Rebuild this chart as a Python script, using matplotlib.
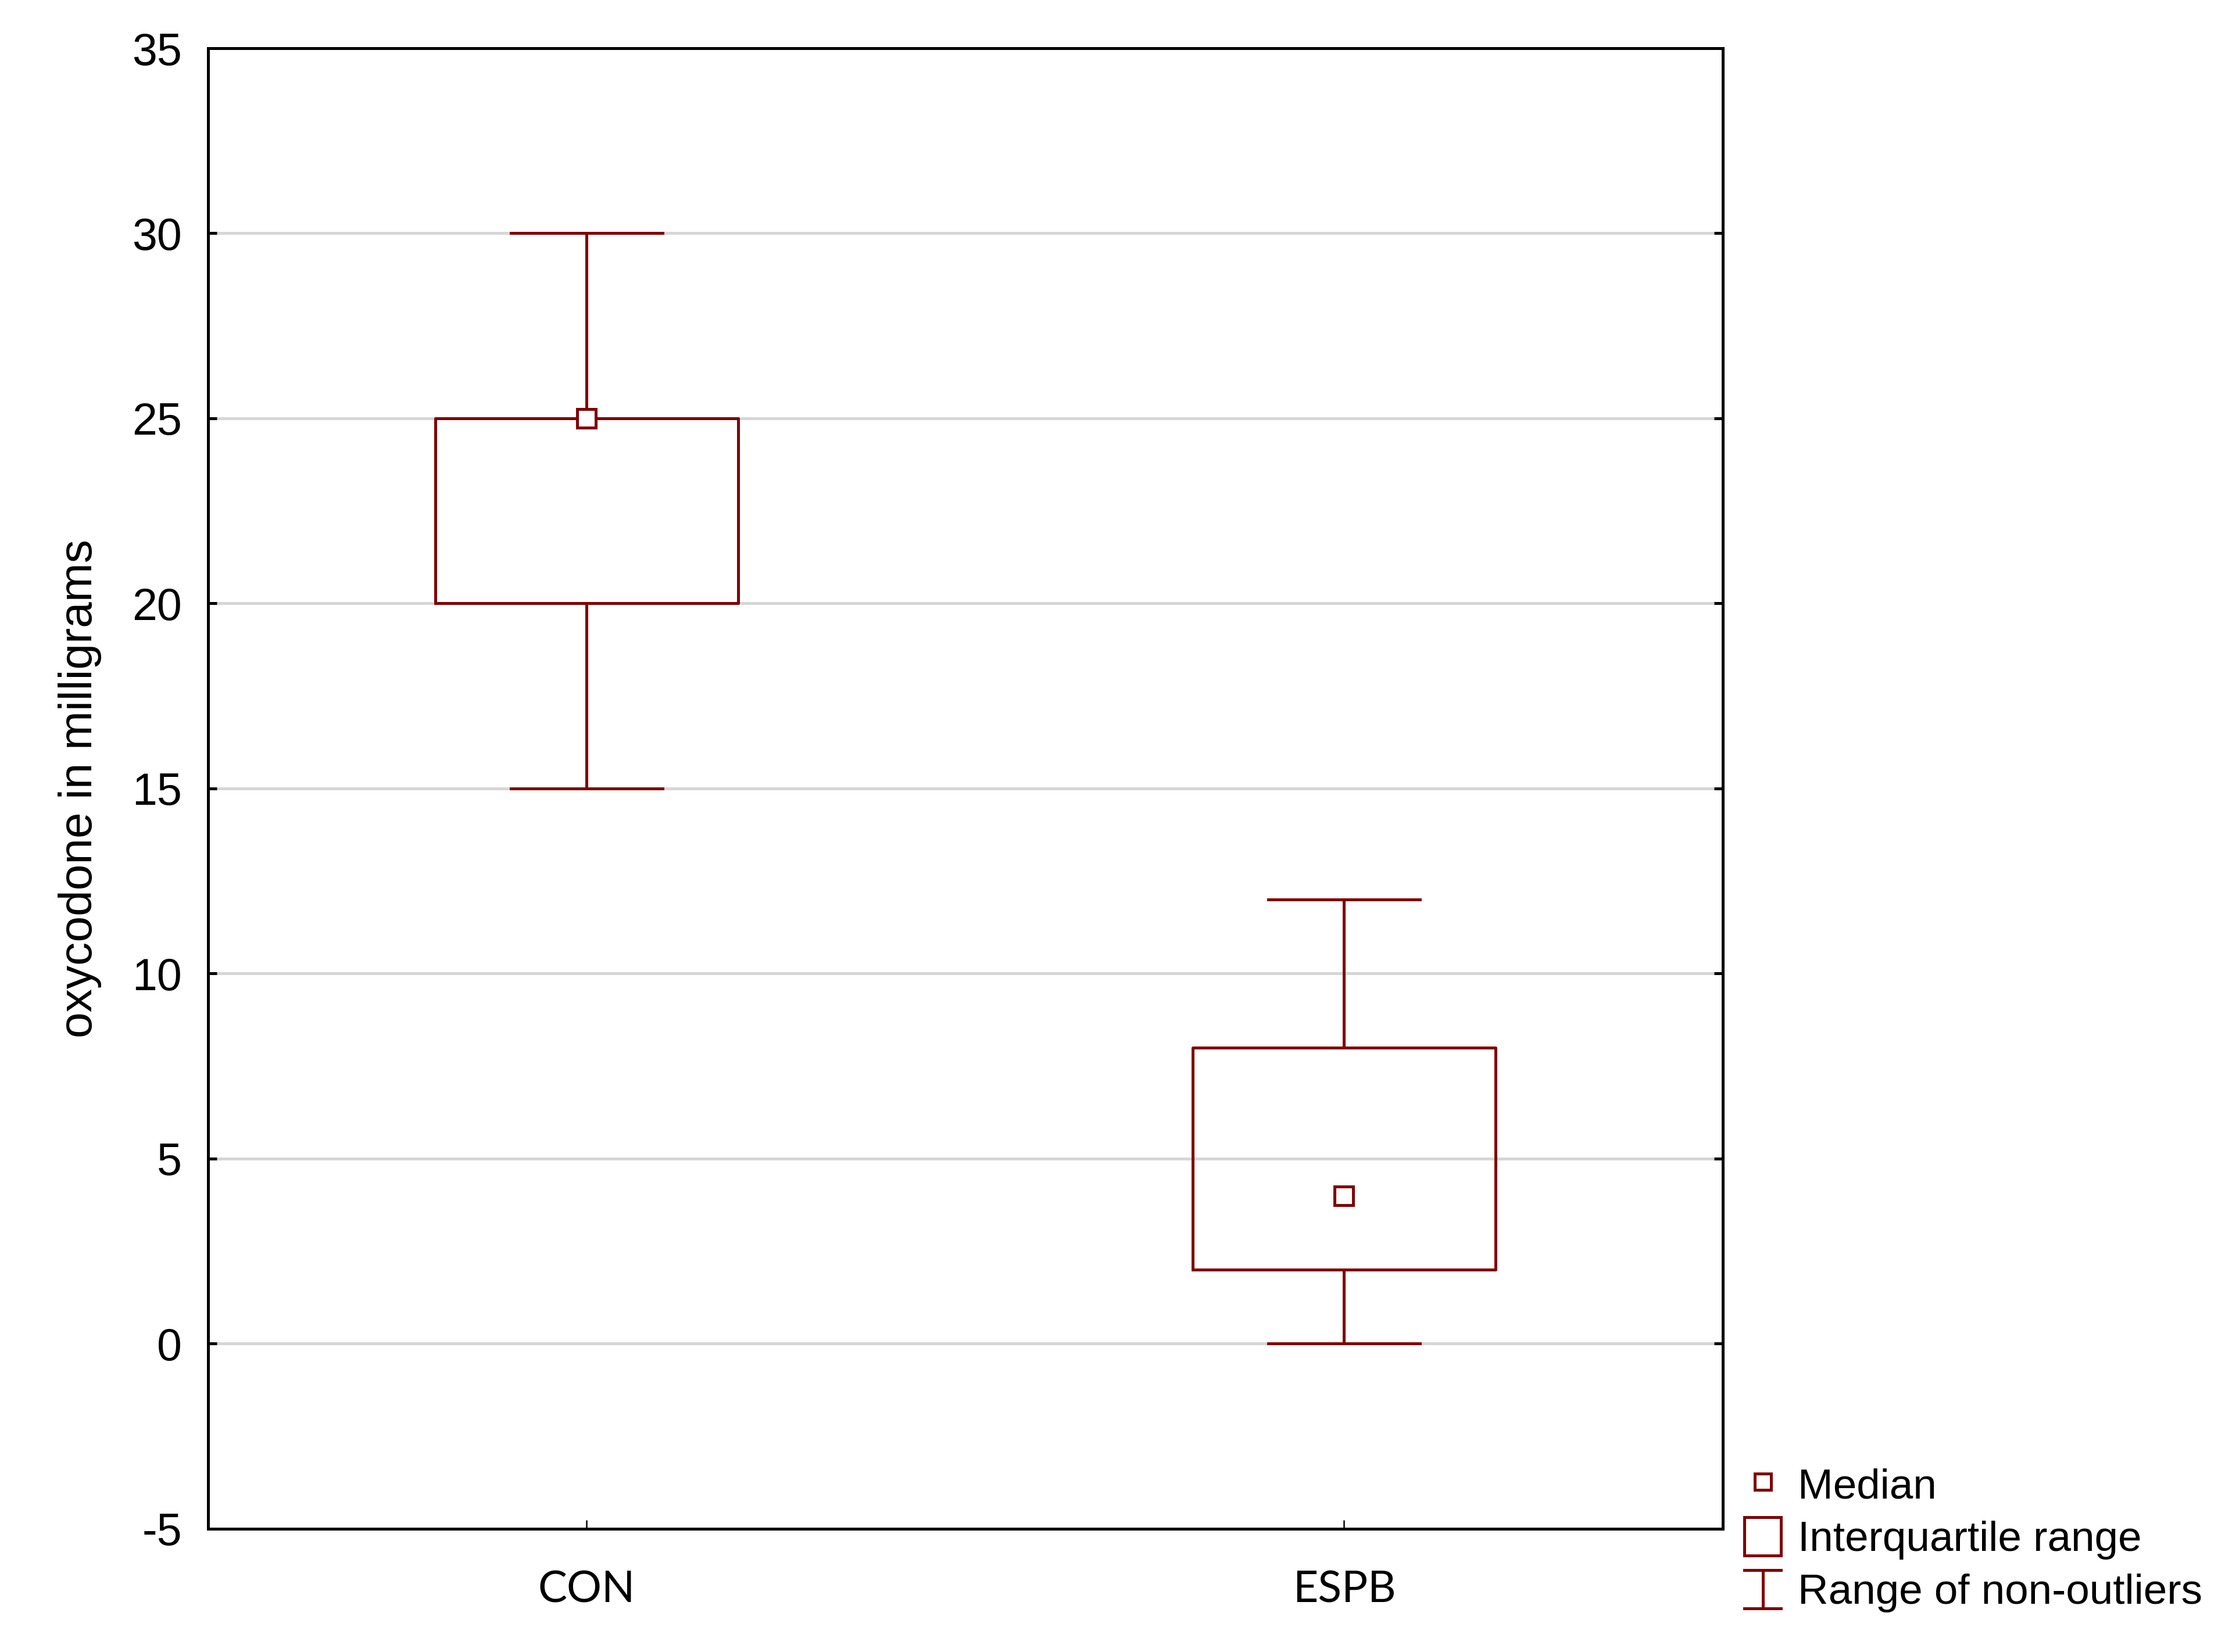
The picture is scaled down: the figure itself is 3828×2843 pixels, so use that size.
import numpy as np
import matplotlib
matplotlib.use("Agg")
import matplotlib.pyplot as plt
from matplotlib.lines import Line2D
from matplotlib.patches import Rectangle

# valores
groups = ["CON", "ESPB"]
whisker_low = [15, 0]
q1 = [20, 2]
medians = [25, 4]
q3 = [25, 8]
whisker_high = [30, 12]

legend_labels = ["Median", "Interquartile range", "Range of non-outliers"]
yticks = [-5, 0, 5, 10, 15, 20, 25, 30, 35]

red = "#800000"
lw = 1.2

plt.rcParams['font.family'] = ['Liberation Sans', 'DejaVu Sans']

fig = plt.figure(figsize=(12.76, 9.4767), dpi=300)
ax = fig.add_axes([0.0935, 0.0746, 0.6808, 0.8962])

stats = []
for i in range(len(groups)):
    stats.append(dict(label=groups[i], whislo=whisker_low[i], q1=q1[i], med=medians[i],
                      q3=q3[i], whishi=whisker_high[i], fliers=[]))

pos = np.arange(1, len(groups) + 1)
ax.bxp(stats, positions=pos, widths=0.4, capwidths=0.2, showfliers=False,
       boxprops=dict(color=red, lw=lw), whiskerprops=dict(color=red, lw=lw),
       capprops=dict(color=red, lw=lw), medianprops=dict(visible=False))
ax.plot(pos, medians, ls="none", marker="s", ms=7.8, mfc="white", mec=red, mew=lw, zorder=5)

ax.set_xlim(0.5, 2.5)
ax.set_ylim(-5, 35)
ax.set_yticks(yticks)
ax.set_yticklabels([str(v) for v in yticks])
ax.set_xticks(pos)
ax.set_xticklabels(groups, family=['Lato', 'DejaVu Sans'], fontsize=18)

ax.yaxis.grid(True, color="#d6d6d6", lw=lw)
ax.set_axisbelow(True)

for s in ax.spines.values():
    s.set_linewidth(lw)
ax.tick_params(axis="y", direction="in", length=3.6, width=lw, labelsize=18.5,
               pad=10.8, right=True)
ax.tick_params(axis="x", direction="in", length=3.6, width=0.6, pad=17)

ax.set_ylabel("oxycodone in milligrams", fontsize=19.3)
ax.yaxis.set_label_coords(-0.07, 0.5)


class WhiskerHandler:
    def legend_artist(self, legend, orig_handle, fontsize, handlebox):
        x0, y0 = -handlebox.xdescent, -handlebox.ydescent
        w, h = handlebox.width, handlebox.height
        cx = x0 + w / 2
        handlebox.add_artist(Line2D([cx, cx], [y0, y0 + h], color=red, lw=lw))
        handlebox.add_artist(Line2D([x0, x0 + w], [y0, y0], color=red, lw=lw))
        handlebox.add_artist(Line2D([x0, x0 + w], [y0 + h, y0 + h], color=red, lw=lw))
        return handlebox


class WhiskerKey:
    pass


h_med = Line2D([], [], ls="none", marker="s", ms=6.5, mfc="white", mec=red, mew=lw)
h_iqr = Rectangle((0, 0), 1, 1, fc="white", ec=red, lw=lw)
h_rng = WhiskerKey()

fig.legend([h_med, h_iqr, h_rng], legend_labels, loc="lower left",
           bbox_to_anchor=(0.784, 0.024), frameon=False, fontsize=17.5,
           handlelength=0.86, handleheight=1.02, handletextpad=0.4,
           labelspacing=0.24, borderpad=0, borderaxespad=0,
           handler_map={WhiskerKey: WhiskerHandler()})

fig.savefig("out.png", dpi=300)
